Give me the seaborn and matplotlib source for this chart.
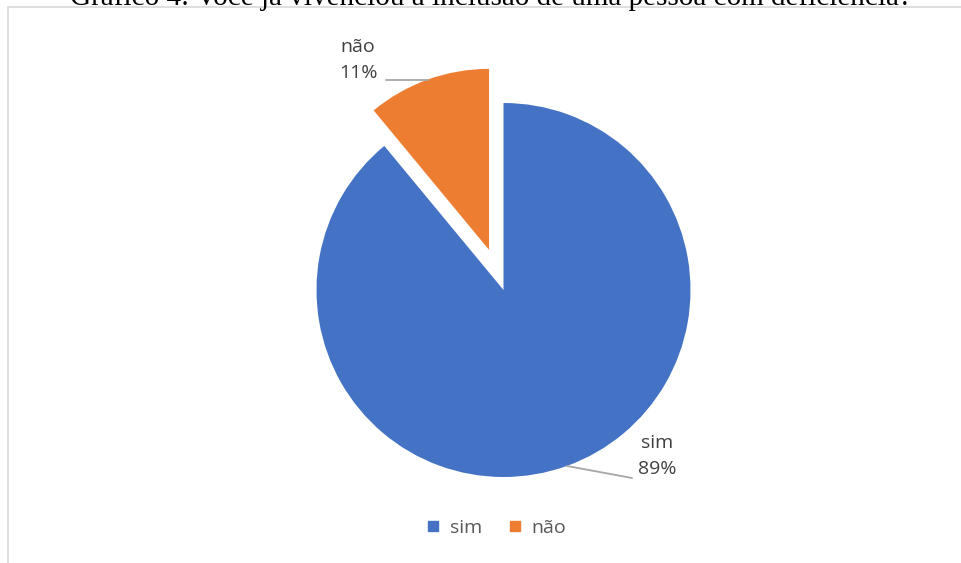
import numpy as np
import matplotlib.pyplot as plt
import seaborn as sns
from matplotlib.lines import Line2D

# data
categories = ['sim', 'não']
values = [89, 11]
colors = ['#4472C4', '#ED7D31']
title = 'Gráfico 4: Você já vivenciou a inclusão de uma pessoa com deficiência?'

sns.set_theme(style='white')
plt.rcParams['font.family'] = ['Open Sans', 'DejaVu Sans']

W, H = 961, 563
fig = plt.figure(figsize=(W / 100, H / 100), dpi=100)
ax = fig.add_axes([0, 0, 1, 1])
ax.axis('off')


def py(y):
    # pixel row (from top) -> data y
    return H - y


cx, cy, r = 503.5, py(290), 187
# explode offset is in data units for pie, so scale by the radius
explode = [0, 0.228 * r]
wedges, _ = ax.pie(values, colors=colors, startangle=90, counterclock=False,
                   explode=explode, center=(cx, cy), radius=r,
                   wedgeprops=dict(linewidth=0))
# the pulled-out slice is drawn a little smaller, as in the original
wedges[1].set_radius(r * 0.968)
ax.set_xlim(0, W)
ax.set_ylim(0, H)
ax.set_aspect('equal')

# chart frame (runs off the right and bottom edges)
ax.add_line(Line2D([8, 8], [py(7), 0], color='#D9D9D9', lw=1.2))
ax.add_line(Line2D([8, W], [py(7), py(7)], color='#D9D9D9', lw=1.2))

# title, cut off by the top of the picture
ax.text(491, py(5), title, ha='center', va='baseline', fontsize=21,
        family=['Liberation Serif'], color='black', clip_on=False)

# data labels with leader lines
label_ends = [(632, 478), (386, None)]
label_pos = [(657, 456), (358, 60)]
for w, v, name, end, pos in zip(wedges, values, categories, label_ends, label_pos):
    mid = np.deg2rad((w.theta1 + w.theta2) / 2)
    ox, oy = w.center
    ex = ox + w.r * np.cos(mid)
    ey = oy + w.r * np.sin(mid)
    end_y = ey if end[1] is None else py(end[1])
    ax.plot([ex, end[0]], [ey, end_y], color='#A6A6A6', lw=1.3)
    ax.text(pos[0], py(pos[1]), f'{name}\n{v}%', ha='center', va='center',
            fontsize=14, color='#404040', linespacing=1.5)

handles = [plt.Line2D([], [], marker='s', ls='', color=c, markersize=7) for c in colors]
leg = ax.legend(handles, categories, loc='center', bbox_to_anchor=(495 / W, 1 - 528 / H),
                ncol=2, frameon=False, fontsize=14, handletextpad=0.35,
                columnspacing=1.2, handlelength=1.0)
for t in leg.get_texts():
    t.set_color('#595959')

fig.savefig('out.png', dpi=100)
